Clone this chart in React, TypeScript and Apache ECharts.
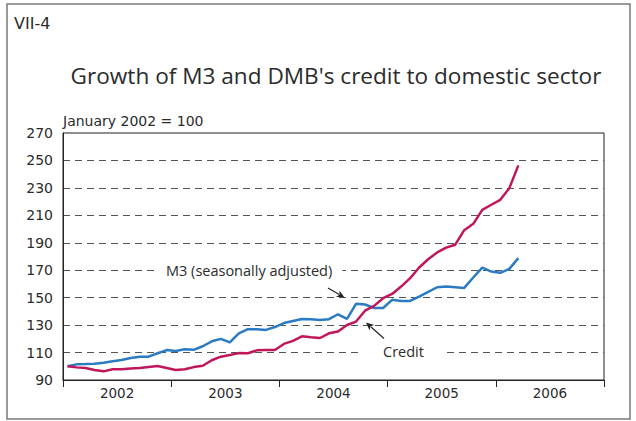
import React, { useEffect, useRef } from "react";
import * as echarts from "echarts";

const years = ["2002", "2003", "2004", "2005", "2006"];

// Monthly index values, January 2002 .. March 2006 (January 2002 = 100)
const m3Values = [
  100, 101.4, 101.6, 101.9, 102.6, 103.6, 104.6, 106, 107, 107, 109.5, 111.8,
  111.2, 112.4, 112, 114.6, 118.2, 120, 117.4, 124, 127, 127, 126.5, 128.6,
  131.5, 133, 134.5, 134.3, 133.8, 134.3, 137.9, 134.5, 145.5, 145, 142.5, 142.5,
  148.4, 147.6, 147.6, 150.8, 154.2, 157.6, 158.1, 157.6, 157.1, 164.7, 171.9, 169,
  168.1, 171, 178.8,
];

const creditValues = [
  100, 99.2, 98.8, 97.3, 96.3, 97.8, 97.8, 98.3, 98.7, 99.5, 100.2, 98.8,
  97.3, 97.8, 99.4, 100.4, 104.4, 107, 108.2, 109.6, 109.5, 111.6, 111.8, 111.8,
  116.3, 118.5, 121.8, 121.1, 120.6, 124, 125.3, 130.1, 132.6, 140.5, 144, 149.6,
  152.7, 158.1, 164.2, 172, 178, 183, 186.5, 188.6, 199.2, 203.8, 214, 217.7,
  221.3, 229.8, 246.4,
];

const yMin = 90;
const yMax = 270;
const yStep = 20;
const monthsPerYear = 12;

const FONT = "'Open Sans', 'Noto Sans', sans-serif";
const NUMFONT = "'DejaVu Sans', 'Open Sans', sans-serif";
const TEXT = "#2b2b2b";

function arrow(tail: [number, number], tip: [number, number]) {
  const dx = tip[0] - tail[0];
  const dy = tip[1] - tail[1];
  const len = Math.sqrt(dx * dx + dy * dy);
  const ux = dx / len;
  const uy = dy / len;
  const hl = 8;
  const hw = 3.6;
  const bx = tip[0] - ux * hl;
  const by = tip[1] - uy * hl;
  return [
    {
      type: "line",
      z: 100,
      shape: { x1: tail[0], y1: tail[1], x2: bx + ux * 2, y2: by + uy * 2 },
      style: { stroke: "#222", lineWidth: 1.1 },
    },
    {
      type: "polygon",
      z: 100,
      shape: {
        points: [
          [tip[0], tip[1]],
          [bx - uy * hw, by + ux * hw],
          [tip[0] - ux * hl * 0.7, tip[1] - uy * hl * 0.7],
          [bx + uy * hw, by - ux * hw],
        ],
      },
      style: { fill: "#222" },
    },
  ];
}

export default function App() {
  const ref = useRef<HTMLDivElement>(null);

  useEffect(() => {
    if (!ref.current) return;
    const chart = echarts.init(ref.current, undefined, { renderer: "svg" });
    const toPoints = (arr: number[]) => arr.map((v, i) => [i + 0.5, v]);
    const totalMonths = years.length * monthsPerYear;

    chart.setOption({
      animation: false,
      backgroundColor: "#fff",
      grid: {
        left: 63,
        top: 133,
        right: 32,
        bottom: 41,
        show: true,
        borderColor: "#222",
        borderWidth: 1,
        backgroundColor: "transparent",
      },
      xAxis: [
        {
          type: "value",
          min: 0,
          max: totalMonths,
          interval: monthsPerYear,
          axisLine: { show: true, lineStyle: { color: "#222", width: 1 } },
          axisTick: { show: true, length: 7, lineStyle: { color: "#222", width: 1 } },
          axisLabel: { show: false },
          splitLine: { show: false },
        },
        {
          type: "value",
          min: 0,
          max: totalMonths,
          interval: monthsPerYear / 2,
          position: "bottom",
          axisLine: { show: false },
          axisTick: { show: false },
          splitLine: { show: false },
          axisLabel: {
            margin: 6,
            fontSize: 13.5,
            fontFamily: NUMFONT,
            color: TEXT,
            formatter: (v: number) =>
              v % monthsPerYear === monthsPerYear / 2
                ? years[(v - monthsPerYear / 2) / monthsPerYear]
                : "",
          },
        },
      ],
      yAxis: {
        type: "value",
        min: yMin,
        max: yMax,
        interval: yStep,
        axisLine: { show: true, lineStyle: { color: "#222", width: 1 } },
        axisTick: { show: false },
        axisLabel: { margin: 10, fontSize: 14, fontFamily: NUMFONT, color: TEXT },
        splitLine: {
          show: true,
          showMinLine: false,
          showMaxLine: false,
          lineStyle: { color: "#555", width: 1.2, type: [7, 5] },
        },
      },
      series: [
        {
          name: "M3 (seasonally adjusted)",
          type: "line",
          xAxisIndex: 0,
          data: toPoints(m3Values),
          showSymbol: false,
          lineStyle: { color: "#2b7bc3", width: 2.5 },
          itemStyle: { color: "#2b7bc3" },
        },
        {
          name: "Credit",
          type: "line",
          xAxisIndex: 0,
          data: toPoints(creditValues),
          showSymbol: false,
          lineStyle: { color: "#c0175c", width: 2.5 },
          itemStyle: { color: "#c0175c" },
        },
      ],
      graphic: [
        {
          type: "rect",
          z: 100,
          shape: { x: 7, y: 4, width: 623, height: 415 },
          style: { fill: "none", stroke: "#7a7a7a", lineWidth: 1.5 },
        },
        {
          type: "text",
          z: 100,
          x: 14,
          y: 23,
          style: {
            text: "VII-4",
            fill: TEXT,
            fontSize: 16,
            fontFamily: NUMFONT,
            verticalAlign: "middle",
          },
        },
        {
          type: "text",
          z: 100,
          x: 336,
          y: 75,
          style: {
            text: "Growth of M3 and DMB's credit to domestic sector",
            fill: TEXT,
            fontSize: 22.6,
            fontFamily: FONT,
            align: "center",
            verticalAlign: "middle",
          },
        },
        {
          type: "text",
          z: 100,
          x: 63,
          y: 121,
          style: {
            text: "January 2002 = 100",
            fill: TEXT,
            fontSize: 14,
            fontFamily: NUMFONT,
            verticalAlign: "middle",
          },
        },
        {
          type: "text",
          z: 100,
          x: 156,
          y: 270,
          style: {
            text: "M3 (seasonally adjusted)",
            fill: TEXT,
            fontSize: 14.5,
            fontFamily: FONT,
            verticalAlign: "middle",
            backgroundColor: "#fff",
            padding: [2, 10, 2, 10],
          },
        },
        {
          type: "text",
          z: 100,
          x: 362,
          y: 351,
          style: {
            text: "Credit",
            fill: TEXT,
            fontSize: 14.5,
            fontFamily: FONT,
            verticalAlign: "middle",
            backgroundColor: "#fff",
            padding: [2, 21, 2, 21],
          },
        },
        ...arrow([328, 288], [344.5, 297.5]),
        ...arrow([384, 338.5], [366, 322.5]),
      ],
    });
    return () => chart.dispose();
  }, []);

  return (
    <div
      ref={ref}
      style={{ position: "absolute", left: 0, top: 0, width: 636, height: 421 }}
    />
  );
}
